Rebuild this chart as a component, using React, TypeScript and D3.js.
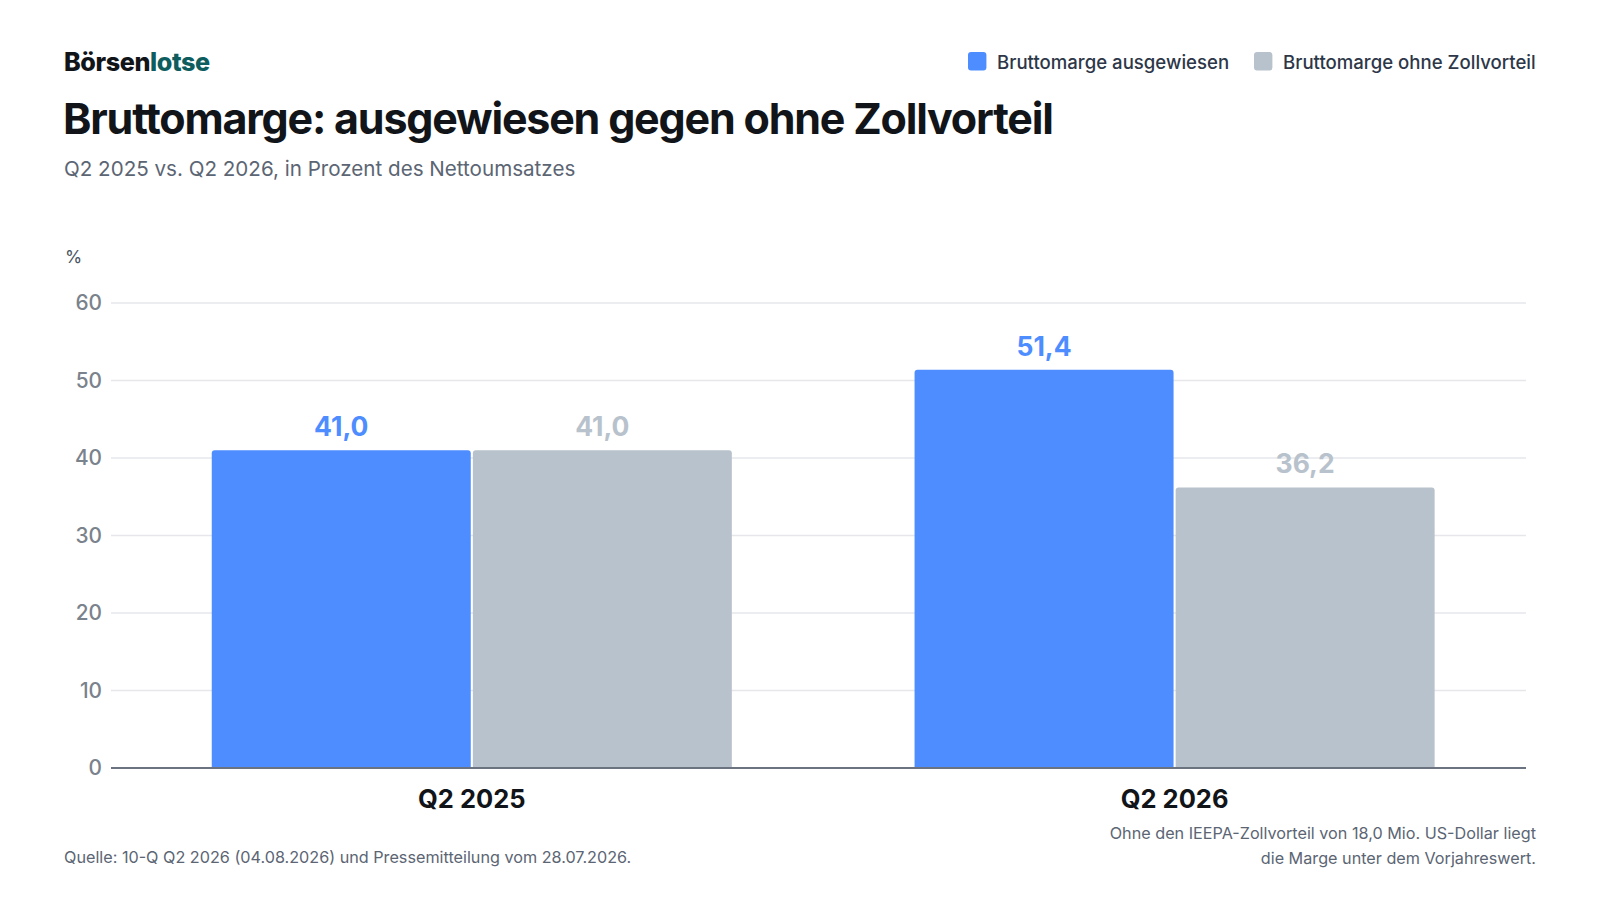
import React, { useEffect, useRef } from "react";
import * as d3 from "d3";

const categories = ["Q2 2025", "Q2 2026"];
const seriesNames = ["Bruttomarge ausgewiesen", "Bruttomarge ohne Zollvorteil"];
const reported = [41.0, 51.4];
const withoutTariff = [41.0, 36.2];
const yTicks = [0, 10, 20, 30, 40, 50, 60];

const colors = ["#4d8dff", "#b8c2cc"];
const labelColors = ["#4d8dff", "#b8c2cc"];

const W = 1600;
const H = 900;
const plot = { top: 303, bottom: 768, left: 111, right: 1526 };
const FONT = "Inter, 'Noto Sans', sans-serif";

export default function App() {
  const ref = useRef<SVGSVGElement | null>(null);

  useEffect(() => {
    if (!ref.current) return;
    const svg = d3.select(ref.current);
    svg.selectAll("*").remove();
    svg.style("font-family", FONT);

    const y = d3.scaleLinear().domain([0, 60]).range([plot.bottom, plot.top]);
    const x0 = d3.scaleBand<string>()
      .domain(categories)
      .range([120.4, plot.right])
      .paddingInner(0.26)
      .paddingOuter(0.13);
    const x1 = d3.scaleBand<string>()
      .domain(seriesNames)
      .range([0, x0.bandwidth()])
      .paddingInner(0.008);

    // brand
    const brand = svg.append("text").attr("x", 64).attr("y", 70.5)
      .attr("font-size", 25.2).attr("font-weight", 800).attr("letter-spacing", -0.4);
    brand.append("tspan").attr("fill", "#111418").text("Börsen");
    brand.append("tspan").attr("fill", "#0d5c5e").text("lotse");

    // title
    svg.append("text").attr("x", 63).attr("y", 133.7)
      .attr("font-size", 43).attr("font-weight", 700).attr("letter-spacing", -1.2)
      .attr("fill", "#111418")
      .text("Bruttomarge: ausgewiesen gegen ohne Zollvorteil");

    svg.append("text").attr("x", 64).attr("y", 175.5)
      .attr("font-size", 20.6).attr("fill", "#5b6573")
      .text("Q2 2025 vs. Q2 2026, in Prozent des Nettoumsatzes");

    // legend
    const legend = svg.append("g");
    const legX = [968, 1254];
    seriesNames.forEach((name, i) => {
      legend.append("rect").attr("x", legX[i]).attr("y", 52).attr("width", 18.4).attr("height", 18.4)
        .attr("rx", 3).attr("fill", colors[i]);
      legend.append("text").attr("x", legX[i] + 29).attr("y", 68.5)
        .attr("font-size", 18.6).attr("font-weight", 500).attr("fill", "#2d3748")
        .text(name);
    });

    // unit
    svg.append("text").attr("x", 65).attr("y", 263)
      .attr("font-size", 17.5).attr("fill", "#4b5563").text("%");

    // grid + y ticks
    const grid = svg.append("g");
    yTicks.forEach(t => {
      if (t !== 0) {
        grid.append("line").attr("x1", plot.left).attr("x2", plot.right)
          .attr("y1", y(t)).attr("y2", y(t))
          .attr("stroke", "#e5e7eb").attr("stroke-width", 1.5);
      }
      grid.append("text").attr("x", 102).attr("y", y(t)).attr("dy", "0.35em")
        .attr("text-anchor", "end").attr("font-size", 20.8).attr("font-weight", 500)
        .attr("fill", "#7a828c").text(t);
    });

    // bars
    const series = [reported, withoutTariff];
    const bars = svg.append("g");
    categories.forEach((c, ci) => {
      seriesNames.forEach((s, si) => {
        const v = series[si][ci];
        const bx = (x0(c) || 0) + (x1(s) || 0);
        const bw = x1.bandwidth();
        const top = y(v);
        const r = 3;
        const p = d3.path();
        p.moveTo(bx, plot.bottom);
        p.lineTo(bx, top + r);
        p.quadraticCurveTo(bx, top, bx + r, top);
        p.lineTo(bx + bw - r, top);
        p.quadraticCurveTo(bx + bw, top, bx + bw, top + r);
        p.lineTo(bx + bw, plot.bottom);
        p.closePath();
        bars.append("path").attr("d", p.toString()).attr("fill", colors[si]);
        bars.append("text").attr("x", bx + bw / 2).attr("y", top - 14)
          .attr("text-anchor", "middle").attr("font-size", 26.5).attr("font-weight", 700)
          .attr("fill", labelColors[si])
          .text(d3.format(".1f")(v).replace(".", ","));
      });
    });

    // baseline
    svg.append("line").attr("x1", plot.left).attr("x2", plot.right)
      .attr("y1", plot.bottom).attr("y2", plot.bottom)
      .attr("stroke", "#6b7280").attr("stroke-width", 2);

    // x labels
    categories.forEach(c => {
      svg.append("text").attr("x", (x0(c) || 0) + x0.bandwidth() / 2).attr("y", 808)
        .attr("text-anchor", "middle").attr("font-size", 25.5).attr("font-weight", 700)
        .attr("fill", "#111418").text(c);
    });

    // footer
    svg.append("text").attr("x", 64).attr("y", 863)
      .attr("font-size", 16.2).attr("fill", "#5b6573")
      .text("Quelle: 10-Q Q2 2026 (04.08.2026) und Pressemitteilung vom 28.07.2026.");
    const note = svg.append("text").attr("x", 1536).attr("y", 839)
      .attr("text-anchor", "end").attr("font-size", 16.2).attr("fill", "#5b6573");
    note.append("tspan").attr("x", 1536).text("Ohne den IEEPA-Zollvorteil von 18,0 Mio. US-Dollar liegt");
    note.append("tspan").attr("x", 1536).attr("dy", 24.5).text("die Marge unter dem Vorjahreswert.");
  }, []);

  return (
    <svg ref={ref} width={W} height={H} style={{ display: "block", margin: -8, background: "#fff" }} />
  );
}
